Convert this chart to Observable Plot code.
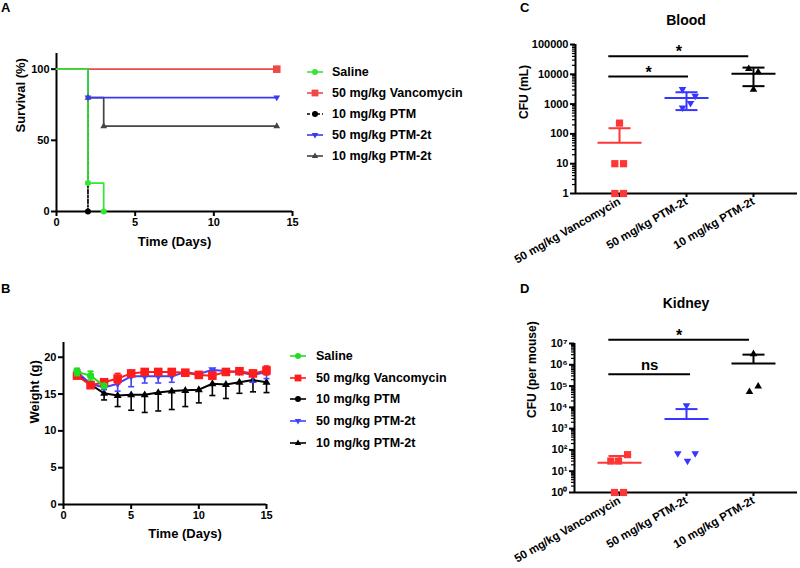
<!DOCTYPE html>
<html><head><meta charset="utf-8">
<script src="https://cdn.jsdelivr.net/npm/d3@7"></script>
<script src="https://cdn.jsdelivr.net/npm/@observablehq/plot@0.6"></script>
<style>
body{margin:0;background:#fff;font-family:"Liberation Sans",Arial,sans-serif;color:#000;}
#fig{position:relative;width:800px;height:568px;overflow:hidden;background:#fff;}
.panel{position:absolute;}
.plab{position:absolute;font-weight:bold;font-size:13px;line-height:14px;}
.ptitle{position:absolute;font-weight:bold;font-size:14px;line-height:16px;transform:translateX(-50%);white-space:nowrap;}
.ltext{position:absolute;font-weight:bold;font-size:12.5px;line-height:16px;white-space:nowrap;}
</style></head><body><div id="fig"></div>
<script>
// ---------- shared categories ----------
const groups = ["Saline", "50 mg/kg Vancomycin", "10 mg/kg PTM", "50 mg/kg PTM-2t", "10 mg/kg PTM-2t"];
const survColors = ["#35e635", "#f04848", "#000000", "#3a3af2", "#444444"];
const weightColors = ["#22dd22", "#ff1c1c", "#000000", "#4242ff", "#000000"];
const cfuGroups = ["50 mg/kg Vancomycin", "50 mg/kg PTM-2t", "10 mg/kg PTM-2t"];
const cfuColors = ["#ff3636", "#3636ff", "#000000"];

// ---------- A: survival ----------
const salineSurvDays = [0, 2, 3], salineSurv = [100, 20, 0];
const vancoSurvDays = [0, 14], vancoSurv = [100, 100];
const ptmSurvDays = [0, 2], ptmSurv = [100, 0];
const ptm2t50SurvDays = [0, 2, 14], ptm2t50Surv = [100, 80, 80];
const ptm2t10SurvDays = [0, 2, 3, 14], ptm2t10Surv = [100, 80, 60, 60];
const survXTicks = [0, 5, 10, 15], survYTicks = [0, 50, 100];

// ---------- B: weight ----------
const weightDays = [1,2,3,4,5,6,7,8,9,10,11,12,13,14,15];
const salineW = [18.0, 17.5, 16.1], salineErr = [0.5, 0.6, 0.3];
const vancoW = [17.5,16.2,16.6,17.1,17.8,18.0,18.0,18.0,17.9,17.6,17.5,18.0,18.1,17.8,18.2];
const vancoErr = [0.3,0.3,0.3,0.7,0.4,0.3,0.3,0.3,0.3,0.3,0.5,0.3,0.3,0.4,0.6];
const ptmW = [17.7], ptmErr = [0.2];
const ptm2t50W = [18.0,16.4,15.9,16.4,17.4,17.4,17.4,17.4,18.0,17.7,18.3,18.1,18.0,17.6,18.0];
const ptm2t50Err = [0.3,0.3,0.3,1.0,1.4,0.9,0.9,0.8,0.3,0.3,0.3,0.3,0.3,1.0,0.9];
const ptm2t10W = [17.7,16.3,15.1,14.8,14.9,14.9,15.2,15.4,15.5,15.6,16.4,16.3,16.6,16.9,16.6];
const ptm2t10Err = [0.3,0.5,0.9,1.5,2.1,2.4,2.5,2.5,2.2,1.8,1.6,1.9,1.5,1.6,1.4];
const weightXTicks = [0, 5, 10, 15], weightYTicks = [0, 5, 10, 15, 20];

// ---------- C: blood CFU ----------
const bloodVanco = [230, 10, 10, 1, 1], bloodVancoJit = [0, -0.07, 0.06, -0.07, 0.06];
const bloodPtm2t50 = [3100, 1850, 1060, 750], bloodPtm2t50Jit = [-0.06, 0.13, 0.06, -0.06];
const bloodPtm2t10 = [15500, 12000, 3100], bloodPtm2t10Jit = [-0.07, 0.07, 0];
const bloodMean = [50, 1590, 10500];
const bloodUpper = [155, 2500, 16800];
const bloodLower = [null, 630, 4000];
const bloodSigX1 = [-0.16, -0.16], bloodSigX2 = [1.03, 1.93], bloodSigY = [8500, 40000], bloodSigText = ["*", "*"];
const bloodYTicks = [1, 10, 100, 1000, 10000, 100000];

// ---------- D: kidney CFU ----------
const kidneyVanco = [30, 30, 60, 1, 1], kidneyVancoJit = [-0.13, -0.015, 0.12, -0.075, 0.06];
const kidneyPtm2t50 = [12000, 67, 30, 67], kidneyPtm2t50Jit = [0, -0.13, 0.015, 0.13];
const kidneyPtm2t10 = [3.3e6, 55000, 100000], kidneyPtm2t10Jit = [0, -0.06, 0.07];
const kidneyMean = [25, 2800, 1.15e6];
const kidneyUpper = [52, 8300, 3.0e6];
const kidneyLower = [null, null, null];
const kidneySigX1 = [-0.16, -0.16], kidneySigX2 = [1.06, 1.94], kidneySigY = [3.6e5, 1.5e7], kidneySigText = ["ns", "*"];
const kidneyYTicks = [1, 10, 100, 1e3, 1e4, 1e5, 1e6, 1e7];

// ---------- symbols ----------
const rad = s => Math.sqrt(s / Math.PI);
const hbar = {draw(ctx, size){ const w = rad(size); ctx.moveTo(-w, 0); ctx.lineTo(w, 0); }};
const sq = {draw(ctx, size){ const r = rad(size); ctx.rect(-r, -r, 2*r, 2*r); }};
const triUp = {draw(ctx, size){ const r = rad(size); ctx.moveTo(0, -1.1*r); ctx.lineTo(r, 0.63*r); ctx.lineTo(-r, 0.63*r); ctx.closePath(); }};
const triDown = {draw(ctx, size){ const r = rad(size); ctx.moveTo(0, 1.1*r); ctx.lineTo(r, -0.63*r); ctx.lineTo(-r, -0.63*r); ctx.closePath(); }};
const circ = d3.symbolCircle;
const groupSymbols = [circ, sq, circ, triDown, triUp];
const cfuSymbols = [sq, triDown, triUp];

const fig = document.getElementById("fig");
const FONT = '"Liberation Sans", Arial, Helvetica, sans-serif';
const baseStyle = {fontFamily: FONT, fontSize: "11px", fontWeight: "bold", color: "#000", background: "transparent", overflow: "visible"};

function place(node, left, top) {
  const d = document.createElement("div");
  d.className = "panel"; d.style.left = left + "px"; d.style.top = top + "px";
  d.appendChild(node); fig.appendChild(d);
}
function addText(cls, txt, left, top) {
  const d = document.createElement("div");
  d.className = cls; d.textContent = txt; d.style.left = left + "px"; d.style.top = top + "px";
  fig.appendChild(d);
}
function addLegend(swLeft, swLen, textLeft, centers, colors, dashes, sizes) {
  groups.forEach((g, i) => {
    const svg = d3.create("svg").attr("width", swLen + 4).attr("height", 14)
      .style("position", "absolute").style("left", (swLeft - 2) + "px").style("top", (centers[i] - 7) + "px");
    svg.append("line").attr("x1", 2).attr("x2", swLen + 2).attr("y1", 7).attr("y2", 7)
      .attr("stroke", colors[i]).attr("stroke-width", 1.6).attr("stroke-dasharray", dashes[i]);
    svg.append("path").attr("transform", `translate(${2 + swLen / 2},7)`)
      .attr("d", d3.symbol(groupSymbols[i], Math.PI * sizes[i] * sizes[i])()).attr("fill", colors[i]);
    fig.appendChild(svg.node());
    addText("ltext", g, textLeft, centers[i] - 8);
  });
}

// ================= Panel A =================
{
  const days = [salineSurvDays, vancoSurvDays, ptmSurvDays, ptm2t50SurvDays, ptm2t10SurvDays];
  const vals = [salineSurv, vancoSurv, ptmSurv, ptm2t50Surv, ptm2t10Surv];
  const rows = days.map((ds, g) => ds.map((d, i) => ({g, day: d, s: vals[g][i], i})));
  const order = [2, 4, 3, 1, 0];
  const markR = [3, 3.8, 3, 3.4, 3.4];
  const marks = [
    Plot.ruleY([0], {strokeWidth: 2}),
    Plot.ruleX([0], {strokeWidth: 2}),
    Plot.axisX({ticks: survXTicks, tickSize: 5, tickPadding: 2, strokeWidth: 2, label: null}),
    Plot.axisY({ticks: survYTicks, tickSize: 5, tickPadding: 2, strokeWidth: 2, label: null}),
    Plot.text(["Time (Days)"], {text: d => d, frameAnchor: "bottom", dy: 34, fontSize: 13}),
    Plot.text(["Survival (%)"], {text: d => d, frameAnchor: "left", dx: -36, rotate: -90, fontSize: 13})
  ];
  order.forEach(g => {
    marks.push(Plot.line(rows[g], {x: "day", y: "s", curve: "step-after", stroke: survColors[g], strokeWidth: 1.7,
      strokeDasharray: g === 2 ? "4,2,1.5,2" : null}));
  });
  order.forEach(g => {
    marks.push(Plot.dot(rows[g].filter(d => d.i > 0), {x: "day", y: "s", symbol: groupSymbols[g], r: markR[g], fill: survColors[g], stroke: "none"}));
  });
  const p = Plot.plot({width: 300, height: 260, marginLeft: 56, marginRight: 8, marginTop: 53, marginBottom: 49,
    x: {domain: [0, 15]}, y: {domain: [0, 111]}, style: baseStyle, marks});
  place(p, 0, 0);
  addLegend(307, 16, 332, [72, 93, 114, 135, 156], survColors, [null, null, "3,2", null, null], [3, 3.4, 3, 3.2, 3.2]);
}

// ================= Panel B =================
{
  const ws = [salineW, vancoW, ptmW, ptm2t50W, ptm2t10W];
  const es = [salineErr, vancoErr, ptmErr, ptm2t50Err, ptm2t10Err];
  const twoSided = [true, true, true, false, false];
  const rows = ws.map((w, g) => w.map((v, i) => ({g, day: weightDays[i], w: v, lo: v - es[g][i], hi: twoSided[g] ? v + es[g][i] : v})));
  const order = [4, 2, 3, 1, 0];
  const symR = [3.6, 4.3, 3.6, 4, 4];
  const marks = [
    Plot.ruleY([0], {strokeWidth: 2}),
    Plot.ruleX([0], {strokeWidth: 2}),
    Plot.axisX({ticks: weightXTicks, tickSize: 5, tickPadding: 2, strokeWidth: 2, label: null}),
    Plot.axisY({ticks: weightYTicks, tickSize: 5, tickPadding: 2, strokeWidth: 2, label: null}),
    Plot.text(["Time (Days)"], {text: d => d, frameAnchor: "bottom", dy: 33, dx: 20, fontSize: 13}),
    Plot.text(["Weight (g)"], {text: d => d, frameAnchor: "left", dx: -29, rotate: -90, fontSize: 13})
  ];
  order.forEach(g => {
    const c = weightColors[g];
    marks.push(Plot.ruleX(rows[g], {x: "day", y1: "lo", y2: "hi", stroke: c, strokeWidth: 1.6}));
    marks.push(Plot.dot(rows[g], {x: "day", y: "lo", symbol: hbar, r: 3, stroke: c, strokeWidth: 1.6, fill: "none"}));
    if (twoSided[g]) marks.push(Plot.dot(rows[g], {x: "day", y: "hi", symbol: hbar, r: 3, stroke: c, strokeWidth: 1.6, fill: "none"}));
    marks.push(Plot.line(rows[g], {x: "day", y: "w", stroke: c, strokeWidth: 2}));
    marks.push(Plot.dot(rows[g], {x: "day", y: "w", symbol: groupSymbols[g], r: symR[g], fill: c, stroke: "none"}));
  });
  const p = Plot.plot({width: 300, height: 278, marginLeft: 63, marginRight: 34, marginTop: 52, marginBottom: 64,
    x: {domain: [0, 15]}, y: {domain: [0, 22]}, style: baseStyle, marks});
  place(p, 0, 290);
  addLegend(290, 16, 316, [356, 377.5, 399, 421, 443], weightColors, [null, null, null, null, null], [3, 3.4, 3, 3.2, 3.2]);
}

// ================= Panels C & D =================
const supers = "⁰¹²³⁴⁵⁶⁷⁸⁹";
function cfuPanel(opts) {
  const {pts, jits, mean, upper, lower, sigX1, sigX2, sigY, sigText, yDomain, yTicks, yFormat, xDomain, yLabel, labelDx, height, marginTop, marginBottom, marginLeft} = opts;
  const points = pts.flatMap((vs, g) => vs.map((v, i) => ({g, x: g + jits[g][i], v})));
  const stats = mean.map((m, g) => ({g, m, up: upper[g], lo: lower[g]}));
  const sig = sigY.map((y, i) => ({x1: sigX1[i], x2: sigX2[i], y, t: sigText[i]}));
  const minor = [];
  const decades = Math.round(Math.log10(yDomain[1]));
  for (let e = 0; e < decades; e++) for (let k = 2; k <= 9; k++) minor.push(k * Math.pow(10, e));
  const marks = [
    Plot.ruleY([yDomain[0]], {strokeWidth: 2}),
    Plot.ruleX([xDomain[0]], {strokeWidth: 2}),
    Plot.axisY({ticks: minor, tickSize: 3, strokeWidth: 1.2, tickFormat: () => "", label: null}),
    Plot.axisY({ticks: yTicks, tickSize: 5, tickPadding: 2, strokeWidth: 2, tickFormat: yFormat, label: null}),
    Plot.axisX({ticks: [0, 1, 2], tickSize: 4, tickPadding: 3, strokeWidth: 2, tickRotate: -30, tickFormat: i => cfuGroups[i], label: null, fontSize: 11.5}),
    Plot.text([yLabel], {text: d => d, frameAnchor: "left", dx: labelDx, rotate: -90, fontSize: 12}),
    Plot.ruleX(stats, {x: "g", y1: d => d.lo ?? d.m, y2: "up", stroke: g => cfuColors[g.g], strokeWidth: 2}),
    Plot.dot(stats, {x: "g", y: "m", symbol: hbar, r: 22, stroke: d => cfuColors[d.g], strokeWidth: 2, fill: "none"}),
    Plot.dot(stats, {x: "g", y: "up", symbol: hbar, r: 11, stroke: d => cfuColors[d.g], strokeWidth: 2, fill: "none"}),
    Plot.dot(stats.filter(d => d.lo != null), {x: "g", y: "lo", symbol: hbar, r: 11, stroke: d => cfuColors[d.g], strokeWidth: 2, fill: "none"}),
    ...[0, 1, 2].map(g => Plot.dot(points.filter(d => d.g === g), {x: "x", y: "v", symbol: cfuSymbols[g], r: g === 0 ? 3.6 : 3.8, fill: cfuColors[g], stroke: "none"})),
    Plot.ruleY(sig, {y: "y", x1: "x1", x2: "x2", strokeWidth: 2}),
    Plot.text(sig.filter(d => d.t === "*"), {x: d => (d.x1 + d.x2) / 2, y: "y", text: "t", dy: -4, fontSize: 16}),
    Plot.text(sig.filter(d => d.t !== "*"), {x: d => (d.x1 + d.x2) / 2, y: "y", text: "t", dy: -9, fontSize: 15})
  ];
  return Plot.plot({width: 320, height, marginLeft, marginRight: 3, marginTop, marginBottom,
    x: {domain: xDomain}, y: {type: "log", domain: yDomain}, style: baseStyle, marks});
}

place(cfuPanel({
  pts: [bloodVanco, bloodPtm2t50, bloodPtm2t10], jits: [bloodVancoJit, bloodPtm2t50Jit, bloodPtm2t10Jit],
  mean: bloodMean, upper: bloodUpper, lower: bloodLower,
  sigX1: bloodSigX1, sigX2: bloodSigX2, sigY: bloodSigY, sigText: bloodSigText,
  yDomain: [1, 100000], yTicks: bloodYTicks, yFormat: d => String(d), xDomain: [-0.657, 2.657],
  yLabel: "CFU (mL)", labelDx: -51.5, height: 290, marginTop: 44, marginBottom: 97, marginLeft: 95
}), 480, 0);

place(cfuPanel({
  pts: [kidneyVanco, kidneyPtm2t50, kidneyPtm2t10], jits: [kidneyVancoJit, kidneyPtm2t50Jit, kidneyPtm2t10Jit],
  mean: kidneyMean, upper: kidneyUpper, lower: kidneyLower,
  sigX1: kidneySigX1, sigX2: kidneySigX2, sigY: kidneySigY, sigText: kidneySigText,
  yDomain: [1, 1e7], yTicks: kidneyYTicks, yFormat: d => "10" + supers[Math.round(Math.log10(d))], xDomain: [-0.672, 2.657],
  yLabel: "CFU (per mouse)", labelDx: -42.5, height: 278, marginTop: 53, marginBottom: 76, marginLeft: 94
}), 480, 290);

// titles & panel letters
addText("ptitle", "Blood", 686, 12);
addText("ptitle", "Kidney", 686, 295);
addText("plab", "A", 1, 1);
addText("plab", "B", 1, 282);
addText("plab", "C", 520, 1);
addText("plab", "D", 520, 282);
</script></body></html>
